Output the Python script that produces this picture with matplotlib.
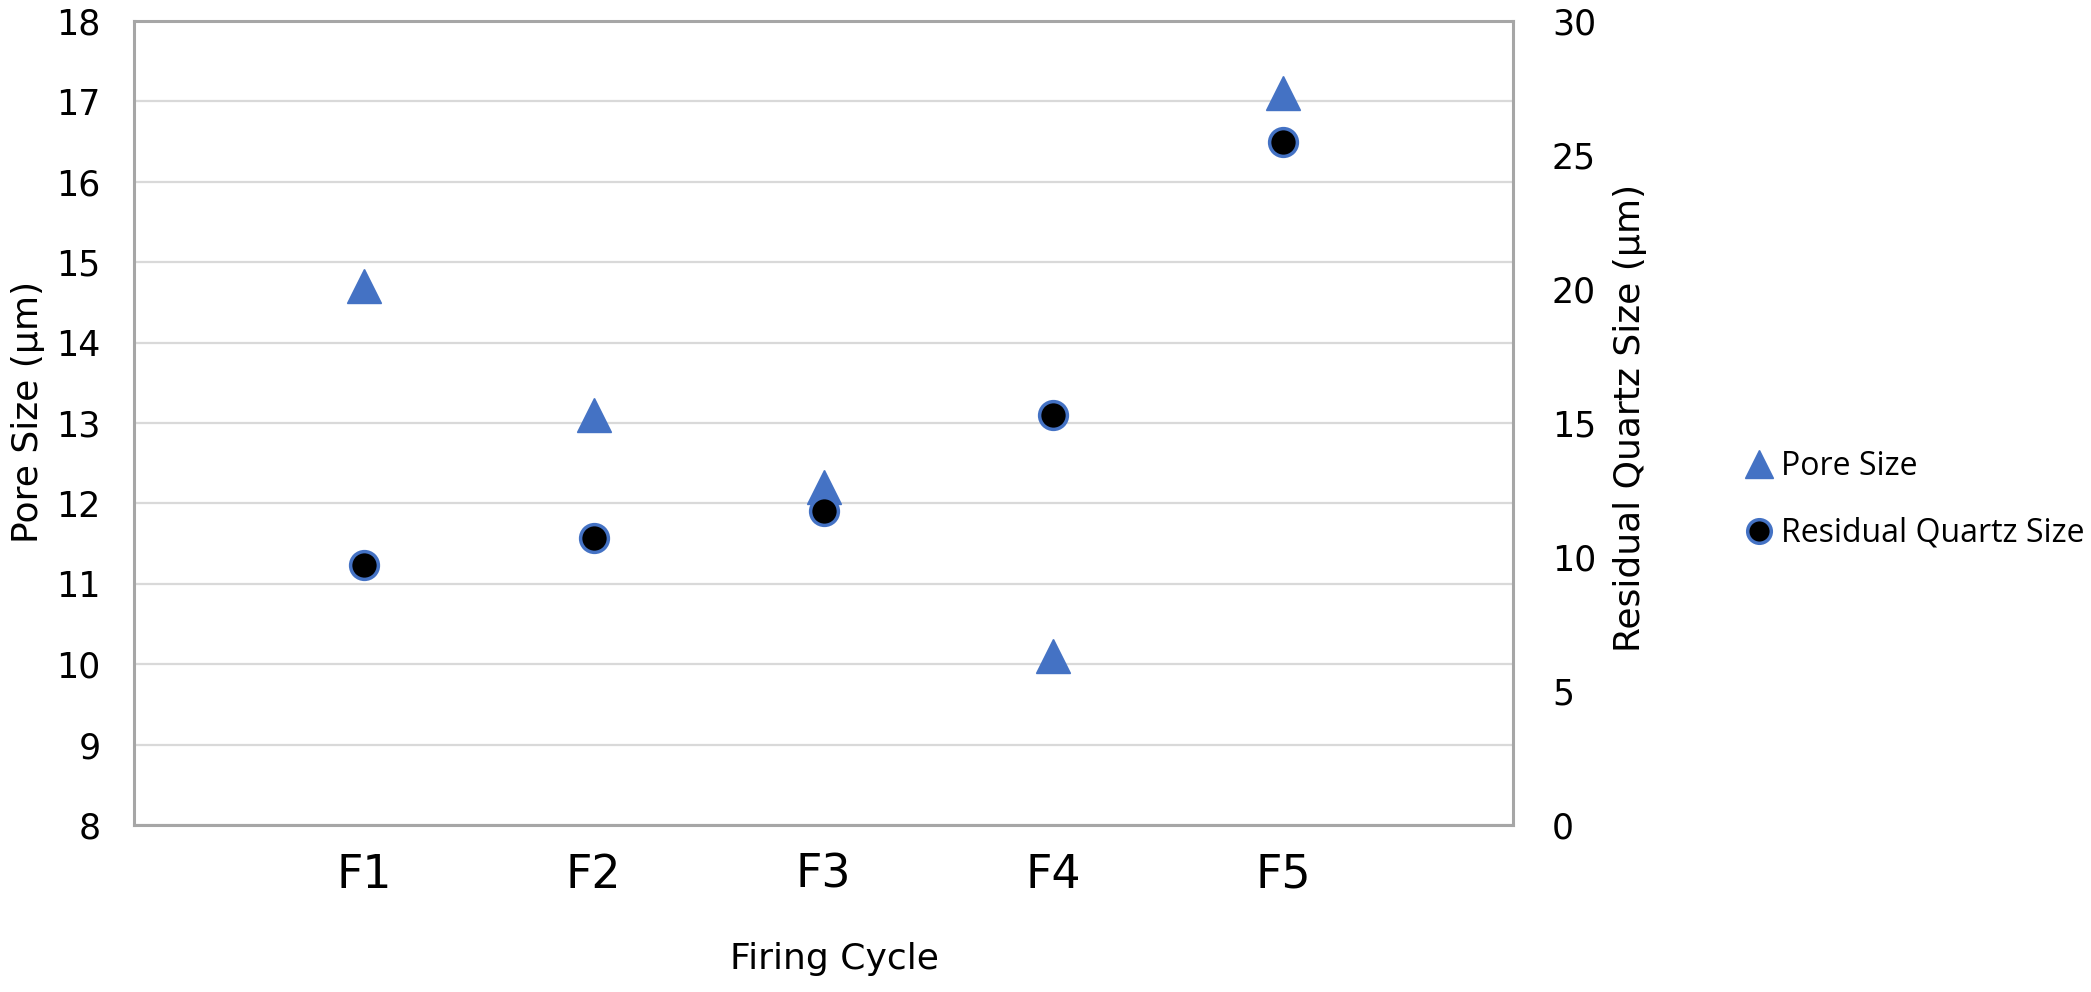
import matplotlib
matplotlib.use("Agg")
import matplotlib.pyplot as plt

# data
cycles = ["F1", "F2", "F3", "F4", "F5"]
pore_size = [14.7, 13.1, 12.2, 10.1, 17.1]          # left axis, um
quartz_size = [9.7, 10.7, 11.7, 15.3, 25.5]         # right axis, um

blue = "#4472C4"
grid_col = "#d9d9d9"
spine_col = "#a6a6a6"

W, H = 2091, 992
fig = plt.figure(figsize=(W / 100, H / 100), dpi=100)
ax = fig.add_axes([134 / W, 1 - 825 / H, (1513 - 134) / W, (825 - 21) / H])
ax2 = ax.twinx()

x = list(range(1, len(cycles) + 1))

ax.set_xlim(0, 6)
ax.set_ylim(8, 18)
ax.set_yticks(range(8, 19))
ax.set_xticks(x)
ax.set_xticklabels(cycles, fontsize=33)
ax.grid(axis="y", color=grid_col, lw=1.6)
ax.set_axisbelow(True)
for s in ax.spines.values():
    s.set_color(spine_col)
    s.set_linewidth(2.2)
ax.tick_params(axis="y", length=0, pad=24, labelsize=25)
ax.tick_params(axis="x", length=0, pad=20)

ax2.set_ylim(0, 30)
ax2.set_yticks(range(0, 31, 5))
ax2.tick_params(axis="y", length=0, pad=28, labelsize=25)
for s in ax2.spines.values():
    s.set_visible(False)

tri, = ax.plot(x, pore_size, ls="none", marker="^", ms=24, color=blue,
               mec=blue, label="Pore Size", zorder=3)
dot, = ax2.plot(x, quartz_size, ls="none", marker="o", ms=20, mfc="black",
                mec=blue, mew=2.5, label="Residual Quartz Size", zorder=3)

fig.text(28 / W, 1 - 412 / H, "Pore Size (µm)", rotation=90, ha="center",
         va="center", fontsize=26)
fig.text(1630 / W, 1 - 418 / H, "Residual Quartz Size (µm)", rotation=90,
         ha="center", va="center", fontsize=26)
fig.text(834 / W, 1 - 959 / H, "Firing Cycle", ha="center", va="center",
         fontsize=26)

fig.legend(handles=[tri, dot], loc="center left",
           bbox_to_anchor=(1716 / W, 1 - 500 / H), frameon=False,
           prop={"family": "Open Sans", "size": 23}, markerscale=0.85,
           handlelength=0.9, handletextpad=0.25, labelspacing=1.05)

fig.savefig("out.png", dpi=100)
